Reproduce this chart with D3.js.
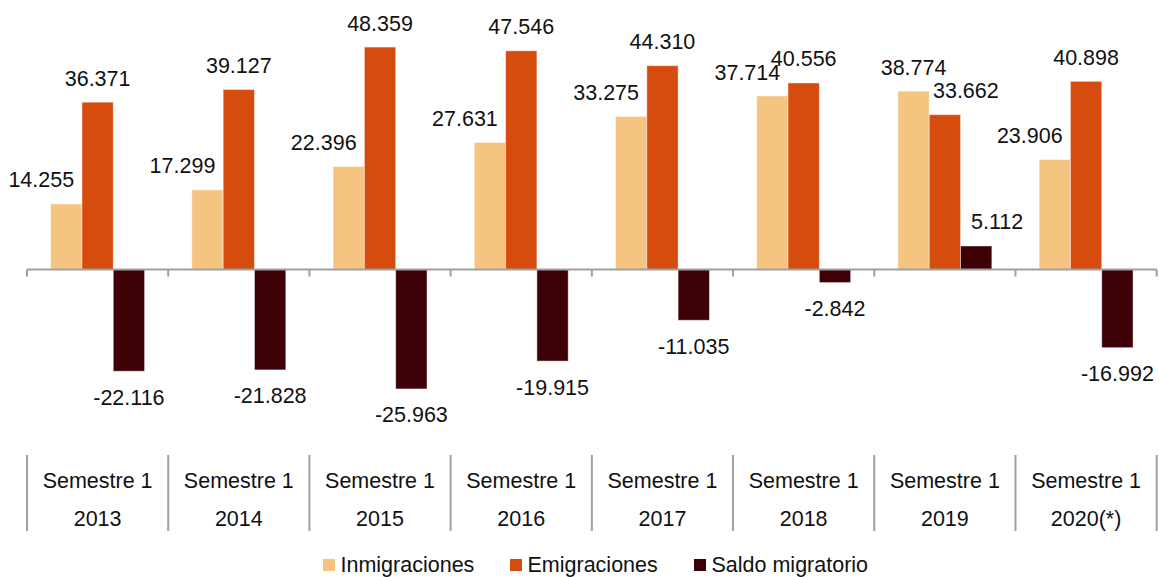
<!DOCTYPE html>
<html>
<head>
<meta charset="utf-8">
<script src="https://cdn.jsdelivr.net/npm/d3@7/dist/d3.min.js"></script>
<style>
  html, body { margin: 0; padding: 0; background: #fff; }
  svg { display: block; font-family: "Liberation Sans", Arial, sans-serif; }
</style>
</head>
<body>
<svg id="chart" width="1159" height="577"></svg>
<script>
// ---- data ----
const categories = ["2013", "2014", "2015", "2016", "2017", "2018", "2019", "2020(*)"];
const periodLabel = "Semestre 1";
const seriesNames = ["Inmigraciones", "Emigraciones", "Saldo migratorio"];
const inmigraciones = [14255, 17299, 22396, 27631, 33275, 37714, 38774, 23906];
const emigraciones = [36371, 39127, 48359, 47546, 44310, 40556, 33662, 40898];
const saldo = [-22116, -21828, -25963, -19915, -11035, -2842, 5112, -16992];
const colors = ["#F4C480", "#D64C0E", "#3C0006"];

// ---- layout ----
const svg = d3.select("#chart");
const left = 27, right = 1156.7;
const seriesValues = [inmigraciones, emigraciones, saldo];

const x0 = d3.scaleBand().domain(categories).range([left, right]).padding(0);
const x1 = d3.scaleBand().domain(seriesNames).range([0, x0.bandwidth()])
  .paddingInner(0).paddingOuter(0.755);
const y = d3.scaleLinear().domain([-40000, 55000]).range([269.5 + 184, 269.5 - 253]);

const fmtPos = d3.format(",");
const fmt = v => (v < 0 ? "-" : "") + fmtPos(Math.abs(v)).replace(/,/g, ".");

const rows = [];
categories.forEach((c, ci) => {
  seriesNames.forEach((s, si) => {
    rows.push({ c, ci, s, si, v: seriesValues[si][ci] });
  });
});

// bars
svg.append("g").selectAll("rect").data(rows).join("rect")
  .attr("x", d => x0(d.c) + x1(d.s))
  .attr("width", x1.bandwidth())
  .attr("y", d => y(Math.max(0, d.v)))
  .attr("height", d => Math.abs(y(d.v) - y(0)))
  .attr("fill", d => colors[d.si])
  .attr("stroke", "rgba(255,255,255,0.45)")
  .attr("stroke-width", 1);

// axis line with ticks at category boundaries
const axisG = svg.append("g").attr("transform", `translate(0,${y(0)})`);
const boundaries = categories.map(c => x0(c)).concat([right]);
axisG.append("line")
  .attr("x1", left).attr("x2", right).attr("y1", 0).attr("y2", 0)
  .attr("stroke", "#a0a0a0").attr("stroke-width", 2);
axisG.selectAll("line.tick").data(boundaries).join("line")
  .attr("class", "tick")
  .attr("x1", d => d).attr("x2", d => d).attr("y1", 0).attr("y2", 7)
  .attr("stroke", "#a0a0a0").attr("stroke-width", 2);

// data labels (nudged away from a taller neighbouring bar of same sign)
const nudgeLeft = 25, nudgeRight = 21;
function shift(d) {
  const vals = seriesValues.map(a => a[d.ci]);
  const l = d.si > 0 ? vals[d.si - 1] : null;
  const r = d.si < vals.length - 1 ? vals[d.si + 1] : null;
  if (r !== null && Math.sign(r) === Math.sign(d.v) && Math.abs(r) > Math.abs(d.v)) return -nudgeLeft;
  if (l !== null && Math.sign(l) === Math.sign(d.v) && Math.abs(l) > Math.abs(d.v)) return nudgeRight;
  return 0;
}
svg.append("g").selectAll("text").data(rows).join("text")
  .attr("x", d => x0(d.c) + x1(d.s) + x1.bandwidth() / 2 + shift(d))
  .attr("y", d => d.v >= 0 ? y(d.v) - 16.5 : y(d.v) + 33.5)
  .attr("text-anchor", "middle")
  .attr("font-size", "21.5px")
  .attr("fill", "#111")
  .text(d => fmt(d.v));

// category table
const tbl = svg.append("g");
tbl.selectAll("line").data(boundaries).join("line")
  .attr("x1", d => d).attr("x2", d => d).attr("y1", 455).attr("y2", 531)
  .attr("stroke", "#a0a0a0").attr("stroke-width", 2);
tbl.selectAll("text.p").data(categories).join("text")
  .attr("class", "p")
  .attr("x", d => x0(d) + x0.bandwidth() / 2)
  .attr("y", 487.5)
  .attr("text-anchor", "middle").attr("font-size", "21.5px").attr("fill", "#111")
  .text(periodLabel);
tbl.selectAll("text.yr").data(categories).join("text")
  .attr("class", "yr")
  .attr("x", d => x0(d) + x0.bandwidth() / 2)
  .attr("y", 526)
  .attr("text-anchor", "middle").attr("font-size", "21.5px").attr("fill", "#111")
  .text(d => d);

// legend
const legendX = [323, 510, 694];
const lg = svg.append("g");
seriesNames.forEach((s, i) => {
  lg.append("rect").attr("x", legendX[i]).attr("y", 559)
    .attr("width", 12).attr("height", 12).attr("fill", colors[i]);
  lg.append("text").attr("x", legendX[i] + 17.5).attr("y", 572)
    .attr("font-size", "21.5px").attr("fill", "#111").text(s);
});
</script>
</body>
</html>
